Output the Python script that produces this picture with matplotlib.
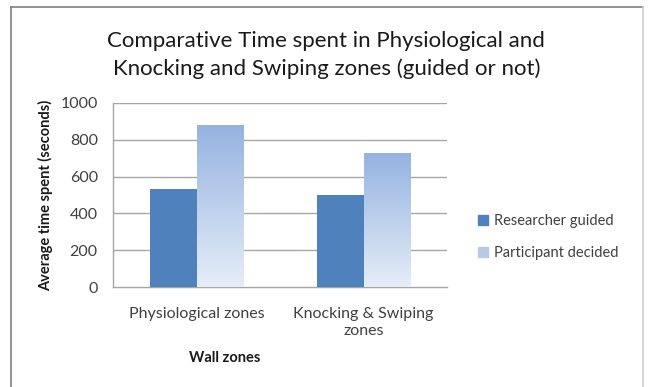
import numpy as np
import matplotlib
matplotlib.use("Agg")
import matplotlib.pyplot as plt
from matplotlib.lines import Line2D
from matplotlib.patches import Patch

plt.rcParams['font.family'] = ['Lato', 'DejaVu Sans']

zones = ['Physiological zones', 'Knocking & Swiping\nzones']
researcher_guided = [531, 498]
participant_decided = [882, 728]
y_ticks = [0, 200, 400, 600, 800, 1000]

dark_blue = '#4f81bd'
grad_top = np.array([0.58, 0.70, 0.88])
grad_bottom = np.array([0.90, 0.93, 0.97])

fig = plt.figure(figsize=(6.5, 3.87), dpi=100)
ax = fig.add_axes([0.174, 0.258, 0.514, 0.476])

x = np.arange(len(zones))
w = 0.28

for y in y_ticks[1:]:
    ax.axhline(y, color='#a6a6a6', lw=1, zorder=1)

ax.bar(x - w / 2, researcher_guided, w, color=dark_blue, zorder=3)
light_bars = ax.bar(x + w / 2, participant_decided, w, color='none', zorder=3)

# vertical gradient for the light bars, clipped to each bar
t = np.linspace(0, 1, 256)[:, None]
grad = grad_top[None, :] * (1 - t) + grad_bottom[None, :] * t
grad = grad[:, None, :]
for bar in light_bars:
    bx, bw, bh = bar.get_x(), bar.get_width(), bar.get_height()
    im = ax.imshow(grad, extent=[bx, bx + bw, 0, bh], aspect='auto',
                   zorder=3, interpolation='bilinear')
    im.set_clip_path(bar)
ax.set_xlim(-0.5, len(zones) - 0.5)
ax.set_ylim(0, 1000)

ax.set_xticks(x)
ax.set_xticklabels(zones, fontsize=11.5, color='#404040', linespacing=1.3)
ax.set_yticks(y_ticks)
ax.set_yticklabels([str(v) for v in y_ticks], fontsize=11.5, color='#404040')
ax.tick_params(length=0)
ax.tick_params(axis='y', pad=11)
ax.tick_params(axis='x', pad=14)

for side in ['top', 'right']:
    ax.spines[side].set_visible(False)
for side in ['left', 'bottom']:
    ax.spines[side].set_color('#a6a6a6')
    ax.spines[side].set_linewidth(1)

ax.set_ylabel('Average time spent (seconds)', fontsize=10.5, fontweight='bold',
              color='#1a1a1a', labelpad=5)
fig.text(0.346, 1 - 358 / 387, 'Wall zones', ha='center', va='center',
         fontsize=10.5, fontweight='bold', color='#1a1a1a')

fig.text(0.502, 1 - 55 / 387,
         'Comparative Time spent in Physiological and\nKnocking and Swiping zones (guided or not)',
         ha='center', va='center', fontsize=16, color='#1a1a1a', linespacing=1.4)

handles = [Patch(color=dark_blue), Patch(color='#b7c9e8')]
fig.legend(handles, ['Researcher guided', 'Participant decided'],
           loc='center left', bbox_to_anchor=(0.715, 1 - 237 / 387),
           frameon=False, fontsize=10.5, handlelength=0.7, handleheight=0.7,
           handletextpad=0.4, labelspacing=1.2, labelcolor='#404040')

# chart frame
fig.add_artist(Line2D([10.5 / 650, 10.5 / 650], [0, 1 - 7 / 387],
                      transform=fig.transFigure, color='#7f7f7f', lw=1.2))
fig.add_artist(Line2D([10.5 / 650, 643 / 650], [1 - 7 / 387, 1 - 7 / 387],
                      transform=fig.transFigure, color='#7f7f7f', lw=1.2))
fig.add_artist(Line2D([643 / 650, 643 / 650], [0, 1 - 7 / 387],
                      transform=fig.transFigure, color='#d0d0d0', lw=1.2))

fig.savefig('out.png', dpi=100, facecolor='white')
